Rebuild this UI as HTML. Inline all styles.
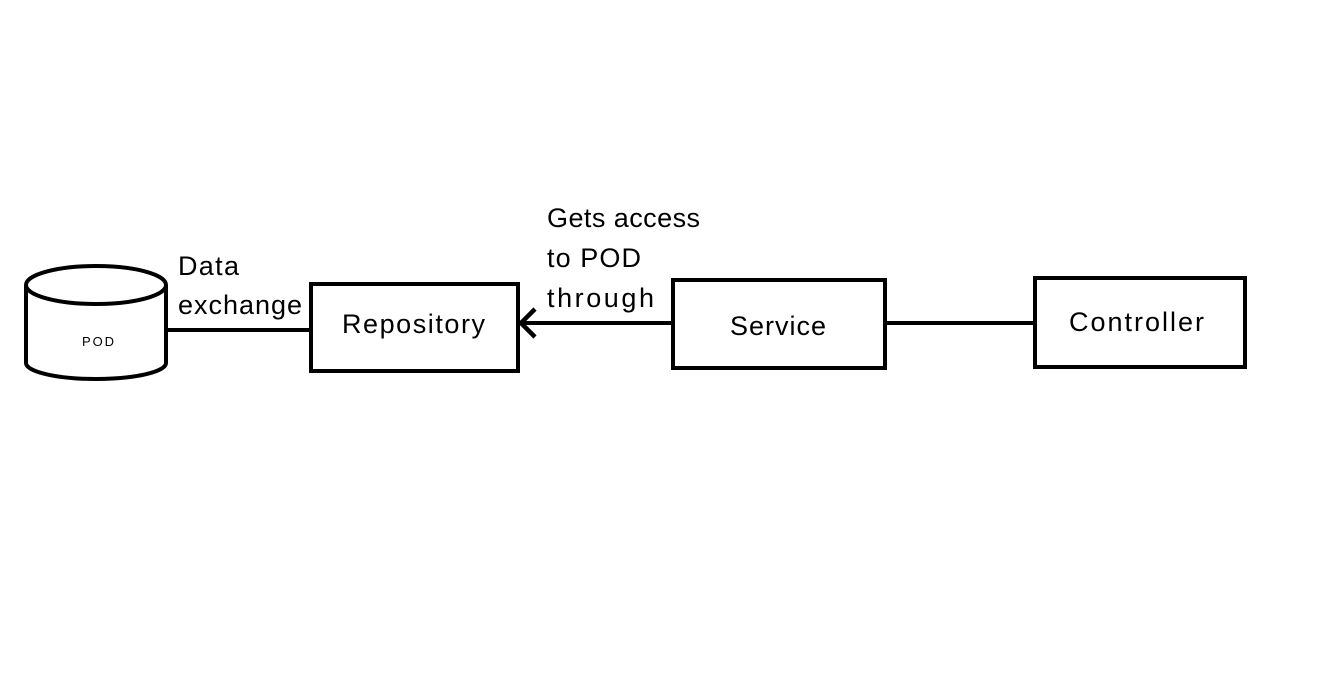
<!DOCTYPE html>
<html><head><style>
body{margin:0;background:#fff;width:1323px;height:678px;overflow:hidden}
text{font-family:"Liberation Sans",sans-serif;fill:#000}
</style></head><body>
<svg width="1323" height="678" xmlns="http://www.w3.org/2000/svg">
<g fill="none" stroke="#000" stroke-width="4">
<path d="M26,285 L26,363 A70,16 0 0 0 166,363 L166,285"/>
<ellipse cx="96" cy="285" rx="70" ry="19"/>
<line x1="166" y1="330" x2="311" y2="330"/>
<rect x="311" y="284" width="207" height="87"/>
<line x1="521" y1="323" x2="673" y2="323"/>
<polyline points="535,309 521,323 535,337" stroke-width="4.5"/>
<rect x="673" y="280" width="212" height="88"/>
<line x1="885" y1="323" x2="1035" y2="323"/>
<rect x="1035" y="278" width="210" height="89"/>
</g>
<text x="82" y="346" font-size="13" textLength="32">POD</text>
<text x="178" y="275" font-size="27" textLength="61">Data</text>
<text x="178" y="314" font-size="27" textLength="124">exchange</text>
<text x="342" y="333" font-size="27" textLength="143">Repository</text>
<text x="547" y="227" font-size="27" textLength="153">Gets access</text>
<text x="547" y="267" font-size="27" textLength="94">to POD</text>
<text x="547" y="307" font-size="27" textLength="107">through</text>
<text x="730" y="335" font-size="27" textLength="96">Service</text>
<text x="1069" y="331" font-size="27" textLength="135">Controller</text>
</svg>
</body></html>
